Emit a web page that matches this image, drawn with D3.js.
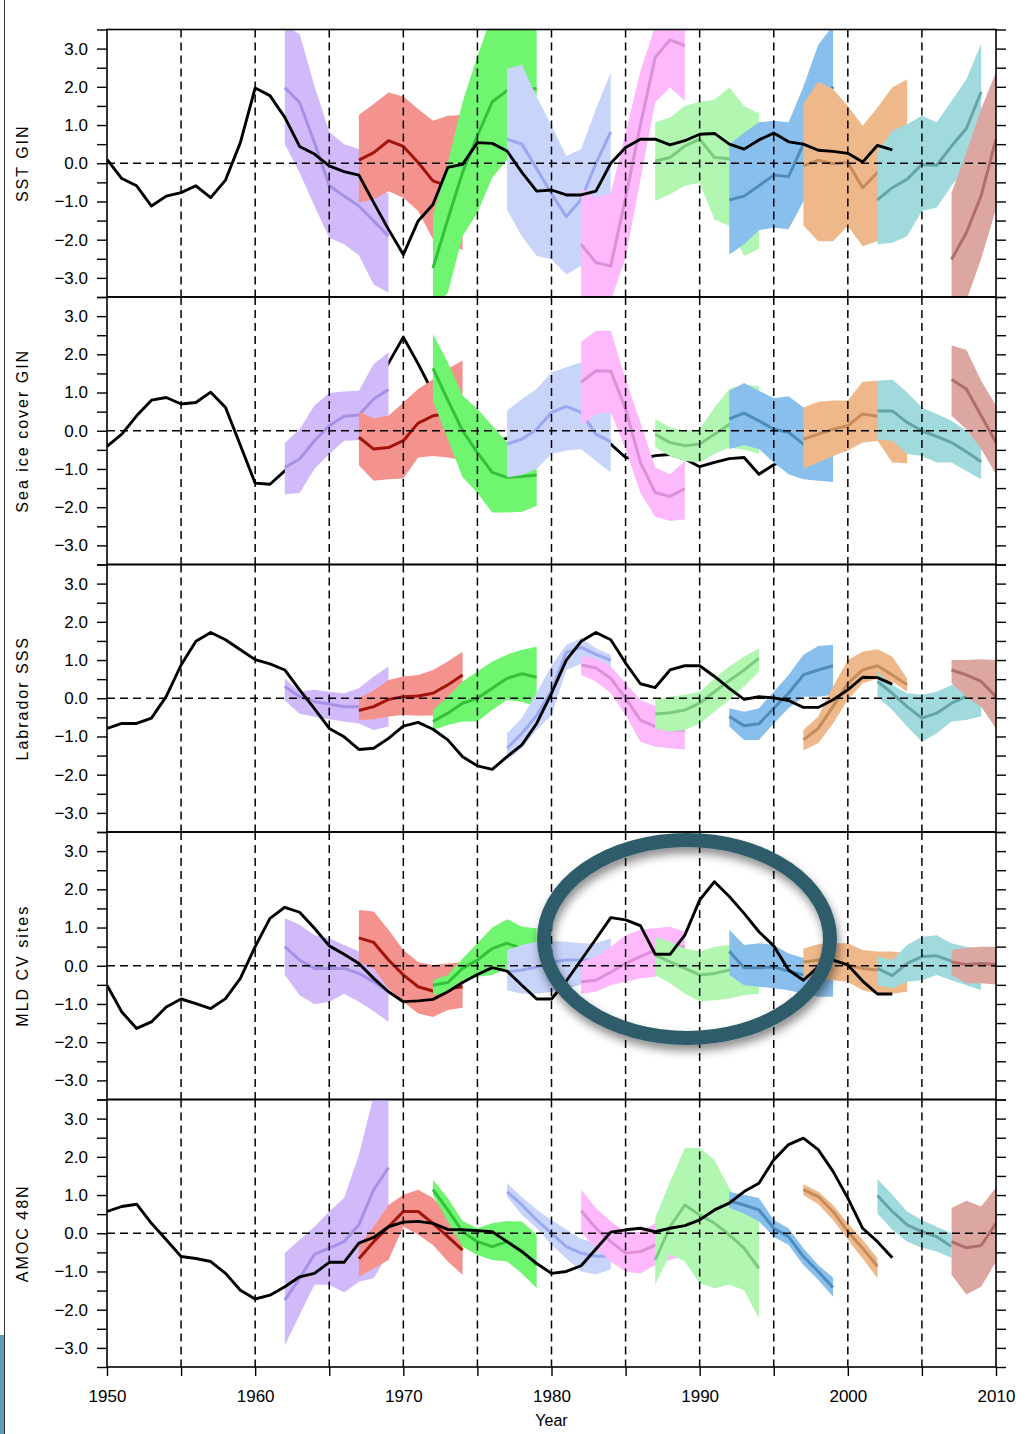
<!DOCTYPE html>
<html>
<head>
<meta charset="utf-8">
<script src="https://cdn.jsdelivr.net/npm/d3@7"></script>
<style>
  body { margin: 0; background: #fff; }
  svg { display: block; }
  text { font-family: "Liberation Sans", Arial, Helvetica, sans-serif; fill: #000; }
</style>
</head>
<body>
<svg id="chart" width="1027" height="1434"></svg>
<script>
// ---- Data -------------------------------------------------------------
// Hindcast start years; each hindcast runs for up to 8 years
const startYears = [1962, 1967, 1972, 1977, 1982, 1987, 1992, 1997, 2002, 2007];
const bandFill = ["#d2b9fa", "#f4938e", "#6ff56f", "#c9d4fb", "#fdb9fc", "#b1f7b1", "#89bfec", "#efb88b", "#a0dadc", "#dca6a1"];
const bandLine = ["#a592e6", "#a3140a", "#33c13a", "#98a9f2", "#dd8fd9", "#7acb7e", "#4d8dbd", "#c58b5a", "#64a4a8", "#b06e68"];

const obsStart = 1950;
const yTickLabels = [-3, -2, -1, 0, 1, 2, 3];
const xTickLabels = [1950, 1960, 1970, 1980, 1990, 2000, 2010];
const panelTitles = ["SST GIN", "Sea ice cover GIN", "Labrador SSS", "MLD CV sites", "AMOC 48N"];

// SST GIN
const sstObs = [0.10,-0.40,-0.59,-1.12,-0.86,-0.77,-0.59,-0.90,-0.44,0.54,
  1.97,1.77,1.20,0.44,0.24,-0.07,-0.22,-0.31,-1.03,-1.73,
  -2.39,-1.51,-1.08,-0.11,-0.03,0.54,0.52,0.32,-0.24,-0.73,
  -0.70,-0.83,-0.83,-0.73,0.00,0.41,0.63,0.63,0.48,0.59,
  0.76,0.78,0.50,0.37,0.61,0.79,0.56,0.50,0.34,0.31,
  0.26,0.03,0.47,0.35];
const sstMean = [
  [1.98,1.59,0.54,-0.58,-0.86,-1.12,-1.51,-1.91],
  [0.08,0.28,0.59,0.44,0.02,-0.46,-0.60,-0.70],
  [-2.74,-1.47,-0.24,0.72,1.61,1.90,1.95,1.95],
  [0.63,0.50,-0.14,-0.80,-1.40,-0.95,0.00,0.82],
  [-2.12,-2.60,-2.69,-0.90,1.00,2.77,3.23,3.08],
  [0.06,0.15,0.45,0.63,0.15,0.12,0.00,-0.10],
  [-0.96,-0.86,-0.59,-0.31,-0.35,0.50,1.30,2.00],
  [-0.07,0.08,-0.01,0.02,-0.64,-0.24,-0.10,0.00],
  [-0.96,-0.64,-0.42,-0.03,-0.05,0.45,0.91,1.87],
  [-2.52,-1.82,-0.85,0.63]];
const sstHigh = [
  [3.60,3.38,2.03,0.82,0.50,0.37,-0.60,-0.80],
  [1.26,1.55,1.85,1.75,1.42,1.11,1.24,1.26],
  [-1.38,0.00,1.60,2.80,3.90,4.30,4.50,4.50],
  [2.47,2.58,1.75,0.98,0.19,0.37,1.42,2.38],
  [-0.64,-0.90,-0.80,0.80,2.41,3.60,4.50,4.50],
  [1.07,1.20,1.50,1.61,1.66,1.98,1.50,1.30],
  [0.50,0.80,1.07,1.11,1.07,2.00,3.10,3.60],
  [1.55,2.13,1.94,1.50,0.98,1.46,1.98,2.20],
  [0.28,0.85,1.02,1.24,1.07,1.63,2.20,3.12],
  [-0.77,0.28,1.42,2.38]];
const sstLow = [
  [0.50,-0.24,-1.12,-1.95,-2.12,-2.41,-3.17,-3.39],
  [-1.03,-0.94,-0.73,-0.90,-1.25,-1.99,-2.08,-2.27],
  [-3.80,-3.39,-1.91,-1.29,-0.38,0.10,0.40,0.50],
  [-1.21,-1.91,-2.43,-2.52,-2.91,-2.68,-1.90,-0.94],
  [-3.80,-3.90,-3.60,-2.47,-0.43,1.59,1.98,1.63],
  [-0.99,-0.81,-0.59,-0.51,-1.47,-1.64,-2.43,-2.24],
  [-2.39,-2.12,-1.75,-1.69,-1.73,-1.00,-0.50,0.40],
  [-1.63,-2.04,-2.04,-1.64,-2.17,-2.04,-1.80,-1.50],
  [-2.12,-2.08,-1.91,-1.25,-1.16,-0.59,-0.10,0.60],
  [-3.70,-3.60,-2.50,-1.20]];

// Sea ice cover GIN
const iceObs = [-0.41,-0.09,0.39,0.80,0.87,0.70,0.74,1.01,0.61,-0.38,
  -1.37,-1.40,-1.05,-0.70,-0.30,0.10,0.40,0.80,1.20,1.77,
  2.45,1.75,1.00,0.60,0.20,-0.10,-0.30,-0.20,0.00,0.10,
  0.20,0.00,-0.20,-0.10,-0.35,-0.70,-0.75,-0.65,-0.62,-0.74,
  -0.94,-0.83,-0.73,-0.70,-1.14,-0.89,-0.75,-0.60,-0.40,-0.30,
  -0.20,0.00,-0.10,-0.30];
const iceMean = [
  [-0.96,-0.74,-0.26,0.13,0.38,0.41,0.83,1.08],
  [-0.17,-0.48,-0.44,-0.26,0.20,0.39,0.45,0.45],
  [1.63,0.80,0.00,-0.57,-1.09,-1.22,-1.20,-1.16],
  [-0.35,-0.22,0.04,0.48,0.64,0.48,-0.09,-0.29],
  [1.27,1.57,1.56,0.57,-0.83,-1.62,-1.72,-1.51],
  [-0.09,-0.31,-0.39,-0.35,-0.09,0.17,0.30,0.40],
  [0.31,0.46,0.26,0.04,-0.04,-0.35,-0.40,-0.40],
  [-0.22,-0.09,0.04,0.13,0.44,0.38,0.40,0.30],
  [0.52,0.52,0.22,0.00,-0.15,-0.31,-0.55,-0.81],
  [1.34,1.09,0.39,-0.31]];
const iceHigh = [
  [-0.32,0.04,0.66,0.99,1.03,1.05,1.75,2.05],
  [0.50,0.32,0.39,0.74,1.09,1.34,1.62,1.84],
  [2.53,1.79,0.92,0.57,0.13,-0.30,-0.50,-0.60],
  [0.52,0.83,1.09,1.53,1.66,1.79,0.90,0.60],
  [2.32,2.62,2.62,1.35,0.22,-0.96,-1.14,-0.79],
  [0.31,0.09,0.00,0.04,0.61,1.09,1.22,1.16],
  [1.05,1.25,1.05,0.85,0.90,0.61,0.40,0.30],
  [0.61,0.76,0.79,0.79,1.28,1.31,1.10,1.00],
  [1.31,1.34,1.01,0.61,0.44,0.26,0.00,-0.30],
  [2.23,2.12,1.31,0.66]];
const iceLow = [
  [-1.66,-1.63,-1.00,-0.61,-0.26,-0.25,-0.10,0.10],
  [-0.90,-1.31,-1.27,-1.25,-0.70,-0.66,-0.70,-0.77],
  [0.79,-0.22,-1.22,-1.62,-2.14,-2.14,-2.12,-1.97],
  [-1.22,-1.16,-1.00,-0.61,-0.52,-0.48,-0.79,-1.09],
  [0.13,0.44,0.48,-0.48,-1.62,-2.25,-2.36,-2.32],
  [-0.44,-0.66,-0.79,-0.83,-0.61,-0.44,-0.50,-0.60],
  [-0.48,-0.38,-0.48,-0.83,-1.14,-1.27,-1.31,-1.34],
  [-0.99,-0.83,-0.66,-0.52,-0.31,-0.26,-0.83,-0.85],
  [-0.22,-0.26,-0.61,-0.66,-0.83,-0.83,-1.05,-1.27],
  [0.39,0.04,-0.48,-1.14]];

// Labrador SSS
const sssObs = [-0.79,-0.66,-0.66,-0.52,0.05,0.87,1.49,1.72,1.53,1.27,
  1.01,0.90,0.74,0.22,-0.27,-0.79,-1.01,-1.34,-1.31,-1.05,
  -0.73,-0.63,-0.81,-1.09,-1.53,-1.77,-1.86,-1.53,-1.22,-0.66,
  0.13,1.00,1.49,1.72,1.53,0.92,0.38,0.28,0.74,0.85,
  0.85,0.57,0.26,-0.03,0.04,0.01,-0.06,-0.24,-0.24,-0.04,
  0.22,0.55,0.54,0.37];
const sssMean = [
  [0.31,0.04,-0.09,-0.15,-0.22,-0.22,-0.20,-0.15],
  [-0.32,-0.22,-0.03,0.04,0.06,0.13,0.35,0.61],
  [-0.61,-0.39,-0.13,0.00,0.26,0.52,0.64,0.55],
  [-1.31,-0.92,-0.45,0.20,1.20,1.33,1.15,1.00],
  [0.87,0.79,0.52,0.00,-0.57,-0.74,-0.83,-0.83],
  [-0.41,-0.38,-0.31,-0.13,0.17,0.46,0.74,1.05],
  [-0.48,-0.72,-0.67,-0.26,0.13,0.61,0.74,0.85],
  [-1.09,-0.79,-0.22,0.39,0.74,0.85,0.61,0.35],
  [0.44,0.13,-0.22,-0.52,-0.39,-0.13,0.05,0.10],
  [0.74,0.61,0.44,0.04]];
const sssHigh = [
  [0.52,0.17,0.22,0.17,0.13,0.26,0.57,0.83],
  [0.00,0.20,0.48,0.57,0.61,0.74,0.96,1.22],
  [-0.31,0.04,0.44,0.70,0.96,1.14,1.27,1.35],
  [-0.92,-0.52,0.15,0.85,1.40,1.57,1.31,1.14],
  [1.11,1.05,0.83,0.39,-0.04,-0.20,-0.30,-0.35],
  [-0.04,0.04,0.09,0.17,0.52,0.83,1.09,1.31],
  [-0.26,-0.35,-0.26,0.17,0.61,1.14,1.37,1.40],
  [-0.83,-0.48,0.31,1.00,1.22,1.28,1.09,0.52],
  [0.70,0.35,0.13,0.09,0.17,0.35,0.39,0.13],
  [1.00,1.00,1.02,1.00]];
const sssLow = [
  [-0.05,-0.41,-0.48,-0.55,-0.61,-0.66,-0.83,-0.74],
  [-0.57,-0.55,-0.48,-0.44,-0.46,-0.45,-0.30,0.00],
  [-0.83,-0.70,-0.61,-0.61,-0.31,-0.04,-0.09,-0.22],
  [-1.62,-1.31,-0.83,-0.45,0.74,0.90,0.80,0.70],
  [0.61,0.44,0.13,-0.44,-1.14,-1.27,-1.31,-1.34],
  [-0.79,-0.87,-0.83,-0.66,-0.35,-0.04,0.31,0.70],
  [-0.74,-1.09,-1.09,-0.66,-0.26,0.04,0.04,0.09],
  [-1.36,-1.18,-0.66,-0.04,0.39,0.52,0.44,0.17],
  [0.04,-0.31,-0.74,-1.14,-0.92,-0.61,-0.57,-0.48],
  [0.39,0.04,-0.22,-0.79]];

// MLD CV sites
const mldObs = [-0.51,-1.21,-1.64,-1.47,-1.08,-0.87,-0.99,-1.12,-0.86,-0.33,
  0.50,1.24,1.53,1.40,0.98,0.52,0.30,0.06,-0.33,-0.68,
  -0.94,-0.92,-0.88,-0.68,-0.44,-0.23,-0.05,-0.14,-0.51,-0.87,
  -0.87,-0.40,0.15,0.70,1.26,1.20,1.05,0.30,0.30,0.80,
  1.72,2.20,1.81,1.37,0.89,0.52,-0.11,-0.38,-0.03,0.15,
  0.02,-0.40,-0.74,-0.74];
const mldMean = [
  [0.50,0.15,-0.07,-0.07,-0.07,-0.20,-0.42,-0.68],
  [0.73,0.61,0.15,-0.24,-0.55,-0.66,-0.60,-0.55],
  [-0.51,-0.44,-0.07,0.15,0.45,0.59,0.45,0.35],
  [-0.16,-0.11,-0.03,0.10,0.15,0.15,0.15,0.15],
  [-0.42,-0.38,-0.17,0.06,0.24,0.41,0.50,0.50],
  [0.28,0.10,-0.07,-0.24,-0.20,-0.11,-0.10,-0.10],
  [0.38,-0.05,-0.05,-0.03,-0.14,-0.24,-0.20,-0.20],
  [0.10,0.15,0.15,0.02,-0.07,-0.11,-0.10,-0.10],
  [-0.07,-0.26,0.06,0.24,0.26,0.12,0.05,0.00],
  [0.10,0.03,0.06,0.03]];
const mldHigh = [
  [1.24,1.07,0.80,0.72,0.54,0.37,0.10,-0.50],
  [1.46,1.42,0.94,0.41,0.10,0.02,0.06,0.09],
  [-0.38,-0.24,0.19,0.59,1.00,1.22,1.02,0.98],
  [0.41,0.54,0.63,0.65,0.63,0.59,0.59,0.72],
  [0.10,0.24,0.50,0.80,0.94,0.98,1.02,0.89],
  [0.76,0.63,0.45,0.37,0.50,0.54,0.40,0.30],
  [0.94,0.54,0.59,0.54,0.32,0.20,0.30,0.30],
  [0.45,0.56,0.59,0.59,0.41,0.37,0.37,0.32],
  [0.24,0.15,0.54,0.76,0.80,0.59,0.50,0.40],
  [0.41,0.47,0.50,0.50]];
const mldLow = [
  [-0.24,-0.77,-1.01,-0.94,-0.73,-0.94,-1.19,-1.47],
  [0.10,-0.07,-0.60,-0.94,-1.25,-1.34,-1.16,-1.10],
  [-0.77,-0.68,-0.38,-0.29,-0.24,-0.07,-0.10,-0.20],
  [-0.64,-0.73,-0.73,-0.68,-0.60,-0.50,-0.30,-0.20],
  [-0.73,-0.68,-0.51,-0.42,-0.33,-0.29,-0.10,0.00],
  [-0.24,-0.46,-0.73,-0.93,-0.90,-0.86,-0.77,-0.73],
  [-0.24,-0.51,-0.55,-0.59,-0.64,-0.73,-0.81,-0.81],
  [-0.33,-0.33,-0.38,-0.42,-0.64,-0.73,-0.73,-0.68],
  [-0.51,-0.59,-0.42,-0.38,-0.24,-0.38,-0.51,-0.64],
  [-0.24,-0.46,-0.46,-0.49]];

// AMOC 48N
const amocObs = [0.57,0.70,0.76,0.26,-0.17,-0.61,-0.66,-0.74,-1.05,-1.49,
  -1.72,-1.62,-1.40,-1.14,-1.05,-0.76,-0.76,-0.26,-0.11,0.17,
  0.29,0.31,0.26,0.10,0.09,0.07,0.04,-0.22,-0.48,-0.79,
  -1.05,-1.00,-0.85,-0.41,0.03,0.09,0.13,0.04,0.13,0.20,
  0.35,0.61,0.79,1.09,1.31,1.92,2.32,2.49,2.19,1.62,
  0.92,0.13,-0.22,-0.64];
const amocMean = [
  [-1.75,-1.18,-0.55,-0.39,-0.22,0.22,1.14,1.72],
  [-0.67,-0.22,0.17,0.57,0.57,0.26,-0.09,-0.44],
  [1.14,0.61,0.04,-0.22,-0.35,-0.22,-0.46,-0.83],
  [1.09,0.74,0.35,0.00,-0.35,-0.52,-0.60,-0.60],
  [0.59,0.13,-0.22,-0.52,-0.48,-0.31,-0.20,-0.10],
  [-0.70,0.17,0.74,0.48,0.26,-0.04,-0.39,-0.92],
  [0.85,0.74,0.61,0.13,-0.09,-0.61,-1.00,-1.42],
  [1.14,0.96,0.57,0.04,-0.39,-0.87],
  [0.99,0.57,0.22,0.04,-0.09,-0.35],
  [-0.22,-0.38,-0.32,0.26]];
const amocHigh = [
  [-0.52,-0.17,0.17,0.57,0.92,2.05,3.60,4.00],
  [-0.31,0.17,0.74,1.01,1.14,0.92,0.50,0.20],
  [1.40,0.92,0.32,0.13,0.26,0.32,0.31,-0.04],
  [1.31,0.95,0.62,0.35,0.10,-0.15,-0.25,-0.35],
  [1.14,0.66,0.31,0.03,0.04,0.26,0.40,0.50],
  [0.40,1.35,2.23,2.23,1.92,1.18,0.70,0.35],
  [1.08,1.01,0.92,0.35,0.13,-0.39,-0.83,-1.16],
  [1.28,1.09,0.74,0.26,-0.17,-0.66],
  [1.42,1.01,0.57,0.35,0.17,0.00],
  [0.66,0.85,0.70,1.20]];
const amocLow = [
  [-2.93,-2.14,-1.35,-1.35,-1.55,-1.27,-1.18,-0.52],
  [-1.14,-0.92,-0.70,0.17,-0.04,-0.31,-0.74,-1.09],
  [1.00,0.31,-0.35,-0.57,-0.70,-0.74,-1.05,-1.44],
  [0.96,0.48,0.13,-0.30,-0.66,-1.00,-1.08,-0.94],
  [0.04,-0.39,-0.74,-1.00,-1.05,-0.83,-0.70,-0.60],
  [-1.34,-0.55,-0.74,-1.31,-1.44,-1.35,-1.49,-2.23],
  [0.66,0.52,0.31,-0.09,-0.31,-0.83,-1.22,-1.66],
  [1.00,0.76,0.35,-0.17,-0.66,-1.18],
  [0.52,0.09,-0.22,-0.38,-0.48,-0.64],
  [-1.09,-1.60,-1.40,-0.74]];

// ---- Layout -------------------------------------------------------------
const panels = [
  { title: panelTitles[0], obs: sstObs,  mean: sstMean,  low: sstLow,  high: sstHigh,  obsOnTop: true },
  { title: panelTitles[1], obs: iceObs,  mean: iceMean,  low: iceLow,  high: iceHigh,  obsOnTop: false },
  { title: panelTitles[2], obs: sssObs,  mean: sssMean,  low: sssLow,  high: sssHigh,  obsOnTop: true },
  { title: panelTitles[3], obs: mldObs,  mean: mldMean,  low: mldLow,  high: mldHigh,  obsOnTop: true },
  { title: panelTitles[4], obs: amocObs, mean: amocMean, low: amocLow, high: amocHigh, obsOnTop: true }
];

const plotLeft = 107, plotRight = 996, plotTop = 29.5, panelH = 267.5;
const svg = d3.select("#chart");
svg.append("rect").attr("width", 1027).attr("height", 1434).attr("fill", "#fff");

// thin page frame on the left edge
svg.append("line").attr("x1", 4.5).attr("x2", 4.5).attr("y1", 0).attr("y2", 1434)
  .attr("stroke", "#333").attr("stroke-width", 1);
svg.append("rect").attr("x", 0).attr("y", 1335).attr("width", 4).attr("height", 99).attr("fill", "#5d9cb8");

const x = d3.scaleLinear().domain([1950, 2010]).range([plotLeft, plotRight]);
const gridYears = d3.range(1955, 2010, 5);
const minorTicks = d3.range(-3.5, 3.51, 0.5);
const fmt = d3.format(".1f");

const defs = svg.append("defs");

panels.forEach((p, i) => {
  const top = plotTop + i * panelH;
  const y = d3.scaleLinear().domain([-3.5, 3.5]).range([top + panelH, top]);
  const clipId = "clip" + i;
  defs.append("clipPath").attr("id", clipId)
    .append("rect").attr("x", plotLeft).attr("y", top).attr("width", plotRight - plotLeft).attr("height", panelH);

  const g = svg.append("g");
  const inner = g.append("g").attr("clip-path", `url(#${clipId})`);

  const obsLine = d3.line().x((d, k) => x(obsStart + k)).y(d => y(d));
  const drawObs = () => inner.append("path").datum(p.obs)
    .attr("d", obsLine).attr("fill", "none").attr("stroke", "#000")
    .attr("stroke-width", 2.9).attr("stroke-linejoin", "round");

  if (!p.obsOnTop) drawObs();

  // hindcast ensembles: spread band plus ensemble-mean line
  startYears.forEach((s, b) => {
    const pts = p.mean[b].map((m, k) => ({ yr: s + k, m, lo: p.low[b][k], hi: p.high[b][k] }));
    inner.append("path").datum(pts)
      .attr("d", d3.area().x(d => x(d.yr)).y0(d => y(d.lo)).y1(d => y(d.hi)))
      .attr("fill", bandFill[b]);
    inner.append("path").datum(pts)
      .attr("d", d3.line().x(d => x(d.yr)).y(d => y(d.m)))
      .attr("fill", "none").attr("stroke", bandLine[b]).attr("stroke-width", 3)
      .attr("stroke-linejoin", "round");
  });

  // dashed year grid and zero line
  inner.selectAll(".vgrid").data(gridYears).join("line")
    .attr("x1", d => x(d)).attr("x2", d => x(d))
    .attr("y1", top).attr("y2", top + panelH)
    .attr("stroke", "#000").attr("stroke-width", 1.5).attr("stroke-dasharray", "8,5");
  inner.append("line")
    .attr("x1", plotLeft).attr("x2", plotRight).attr("y1", y(0)).attr("y2", y(0))
    .attr("stroke", "#000").attr("stroke-width", 1.5).attr("stroke-dasharray", "8,5");

  if (p.obsOnTop) drawObs();

  // frame
  g.append("rect").attr("x", plotLeft).attr("y", top)
    .attr("width", plotRight - plotLeft).attr("height", panelH)
    .attr("fill", "none").attr("stroke", "#000").attr("stroke-width", 1.6);

  // left axis with labels at whole units
  const la = g.append("g").attr("transform", `translate(${plotLeft},0)`)
    .call(d3.axisLeft(y).tickValues(minorTicks).tickSize(10).tickPadding(9)
      .tickFormat(d => yTickLabels.includes(Math.round(d * 10) / 10) ? fmt(d) : ""));
  la.select(".domain").remove();
  la.selectAll("line").attr("stroke", "#000").attr("stroke-width", 1.4);
  la.selectAll("text").attr("font-size", 17).attr("font-family", "Liberation Sans, Arial, sans-serif");

  // right axis, ticks only
  const ra = g.append("g").attr("transform", `translate(${plotRight},0)`)
    .call(d3.axisRight(y).tickValues(minorTicks).tickSize(10).tickFormat(""));
  ra.select(".domain").remove();
  ra.selectAll("line").attr("stroke", "#000").attr("stroke-width", 1.4);

  // panel title
  g.append("text")
    .attr("transform", `translate(22,${top + panelH / 2}) rotate(-90)`)
    .attr("text-anchor", "middle").attr("dominant-baseline", "central")
    .attr("font-size", 16).attr("letter-spacing", "2px")
    .text(p.title);
});

// bottom year axis
const bottom = plotTop + 5 * panelH;
const xa = svg.append("g").attr("transform", `translate(0,${bottom})`)
  .call(d3.axisBottom(x).tickValues(d3.range(1950, 2011, 5)).tickSize(9).tickPadding(14)
    .tickFormat(d => xTickLabels.includes(d) ? String(d) : ""));
xa.select(".domain").remove();
xa.selectAll("line").attr("stroke", "#000").attr("stroke-width", 1.4);
xa.selectAll("text").attr("font-size", 17).attr("font-family", "Liberation Sans, Arial, sans-serif");

svg.append("text").attr("x", x(1980)).attr("y", 1426)
  .attr("text-anchor", "middle").attr("font-size", 16).text("Year");

// highlight ring around the 1980s-1990s MLD peak
const shadow = defs.append("filter").attr("id", "ringShadow")
  .attr("x", "-20%").attr("y", "-20%").attr("width", "140%").attr("height", "150%");
shadow.append("feDropShadow").attr("dx", 2).attr("dy", 6).attr("stdDeviation", 5)
  .attr("flood-color", "#000").attr("flood-opacity", 0.45);
svg.append("ellipse")
  .attr("cx", 687).attr("cy", 939).attr("rx", 143).attr("ry", 99)
  .attr("fill", "none").attr("stroke", "#2d5c6b").attr("stroke-width", 14)
  .attr("filter", "url(#ringShadow)");
</script>
</body>
</html>
